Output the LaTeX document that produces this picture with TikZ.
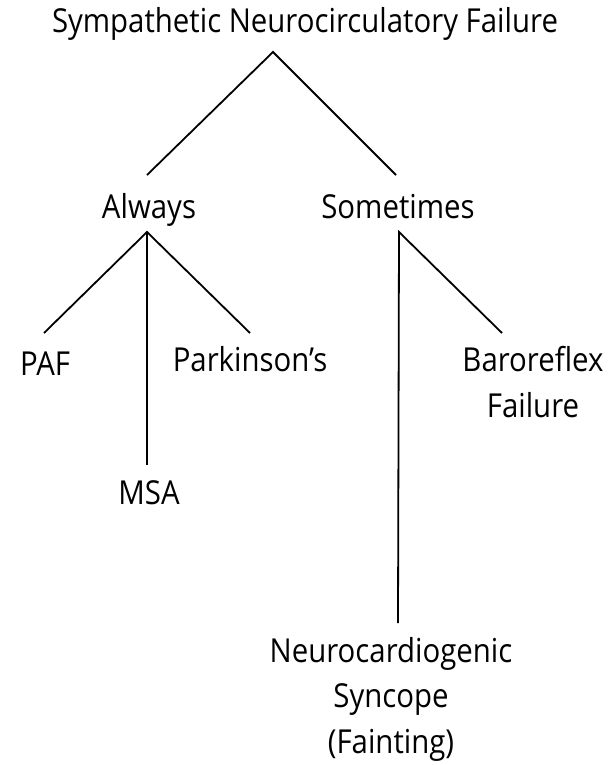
\documentclass[tikz,border=0pt]{standalone}
\usepackage{fontspec}
\setmainfont{Open Sans}[FakeStretch=0.89]
\begin{document}
\begin{tikzpicture}[x=1pt,y=-1pt,
  lbl/.style={inner sep=0pt,anchor=base,align=center,font=\fontsize{33}{45.5}\selectfont},
  link/.style={line width=1.8pt}]
\useasboundingbox (0,0) rectangle (608,765);
\node[lbl] (title) at (305,33) {Sympathetic Neurocirculatory Failure};
\node[lbl] (always) at (149,218) {Always};
\node[lbl] (sometimes) at (398,218) {Sometimes};
\node[lbl] (paf) at (45,375) {PAF};
\node[lbl] (park) at (250,371) {Parkinson's};
\node[lbl] (msa) at (149,504) {MSA};
\node[lbl] (baro) at (533,417) {Baroreflex\\Failure};
\node[lbl] (neuro) at (391,753) {Neurocardiogenic\\Syncope\\(Fainting)};
\coordinate (tS) at (273,52);
\coordinate (aN) at (147,175);
\coordinate (sN) at (396,175);
\coordinate (aS) at (147,232);
\coordinate (sS) at (399,232);
\coordinate (pafN) at (44,333);
\coordinate (parkN) at (250,333);
\coordinate (msaN) at (147,465);
\coordinate (baroN) at (502,333);
\coordinate (neuroN) at (398,623);
\draw[link] (aN) -- (tS) -- (sN);
\draw[link] (pafN) -- (aS) -- (parkN);
\draw[link] (aS) -- (msaN);
\draw[link] (neuroN) -- (sS) -- (baroN);
\end{tikzpicture}
\end{document}
